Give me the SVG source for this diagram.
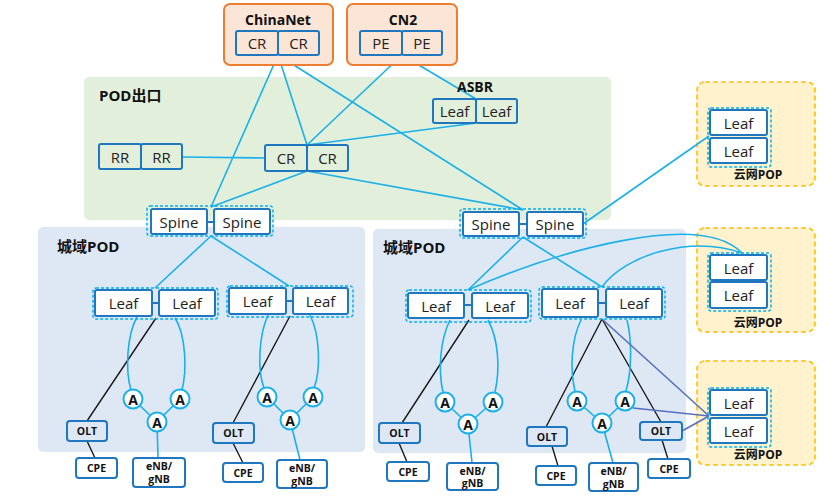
<svg xmlns="http://www.w3.org/2000/svg" width="831" height="496" viewBox="0 0 831 496">
<style>
.bg{fill:#fff}
.isp{fill:#fbe5d6;stroke:#ed7d31;stroke-width:2}
.green{fill:#e2efda}
.blue{fill:#dee8f5}
.pop{fill:#fff2cc;stroke:#ffc000;stroke-width:1.6;stroke-dasharray:5 3}
.grp{fill:none;stroke:#00b0f0;stroke-width:1.5;stroke-dasharray:3 2}
.n{fill:none;stroke:#1f77c0;stroke-width:2}
.w{fill:#fff;stroke:#1f77c0;stroke-width:2}
.t{font-family:"Open Sans","Noto Sans",sans-serif;font-size:15px;fill:#222;text-anchor:middle;dominant-baseline:central}
.b{font-family:"Open Sans","Noto Sans","Noto Sans CJK SC",sans-serif;font-weight:bold;fill:#111}
.s{font-family:"Open Sans","Noto Sans",sans-serif;font-weight:bold;font-size:10.5px;fill:#111;text-anchor:middle;dominant-baseline:central}
.l{fill:none;stroke:#1ab0ea;stroke-width:1.6}
.k{fill:none;stroke:#1a1a1a;stroke-width:1.4}
.p{fill:none;stroke:#5570c0;stroke-width:1.6}
.a{fill:#fff;stroke:#1ab0ea;stroke-width:2}
.at{font-family:"Open Sans","Noto Sans",sans-serif;font-weight:bold;font-size:14px;fill:#111;text-anchor:middle;dominant-baseline:central}
</style>
<rect class="bg" x="0" y="0" width="831" height="496"/>

<!-- regions -->
<g id="region-podexit">
<rect class="green" x="84" y="77" width="527" height="143" rx="5"/>
<text class="b" x="99" y="101" font-size="15">POD出口</text>
</g>
<g id="region-pod-left">
<rect class="blue" x="38" y="227" width="327" height="225" rx="5"/>
<text class="b" x="57" y="252" font-size="15">城域POD</text>
</g>
<g id="region-pod-right">
<rect class="blue" x="373" y="229" width="313" height="224" rx="5"/>
<text class="b" x="383" y="253" font-size="15">城域POD</text>
</g>
<g id="region-pop1"><rect class="pop" x="697" y="82" width="118" height="104" rx="8"/></g>
<g id="region-pop2"><rect class="pop" x="697" y="228" width="118" height="104" rx="8"/></g>
<g id="region-pop3"><rect class="pop" x="697" y="361" width="118" height="104" rx="8"/></g>

<!-- connectors -->
<g id="connectors">
<path class="l" d="M278,55 L211,207"/>
<path class="l" d="M278,55 L307,145"/>
<path class="l" d="M278,55 L523,210"/>
<path class="l" d="M402,55 L307,145"/>
<path class="l" d="M402,55 L476,99"/>
<path class="l" d="M307,145 L476,123"/>
<path class="l" d="M182,157 L265,158"/>
<path class="l" d="M307,171 L211,207"/>
<path class="l" d="M307,171 L523,210"/>
<path class="l" d="M583,224 L709,136"/>
<path class="l" d="M211,236 L155,288"/>
<path class="l" d="M211,236 L289,286"/>
<path class="l" d="M523,237 L468,290"/>
<path class="l" d="M523,237 L602,287"/>
<path class="l" d="M468,290 C560,250 700,210 742,253"/>
<path class="l" d="M602,287 C625,255 690,235 742,253"/>
<!-- short links -->
<path class="n" d="M207,222 H214 M519,224 H527 M152,303 H159 M286,301 H293 M464,305 H472 M598,303 H606"/>
<!-- left POD group 1 -->
<path class="k" d="M156,318 L87,421 M87,441 L95,458"/>
<path class="l" d="M137,317 C127,335 125,370 131,390"/>
<path class="l" d="M175,318 C186,335 187,370 182,390"/>
<path class="l" d="M133,399 L157,422 M180,399 L157,422 M157,422 L158,458"/>
<!-- left POD group 2 -->
<path class="k" d="M290,316 L233,423 M233,443 L243,463"/>
<path class="l" d="M268,315 C259,335 257,370 264,388"/>
<path class="l" d="M310,315 C320,335 321,370 314,388"/>
<path class="l" d="M267,397 L290,420 M313,397 L290,420 M290,420 L300,460"/>
<!-- right POD group 1 -->
<path class="k" d="M469,320 L402,423 M399,443 L407,462"/>
<path class="l" d="M450,320 C440,340 438,370 443,392"/>
<path class="l" d="M488,320 C499,340 500,370 495,392"/>
<path class="l" d="M445,402 L468,424 M493,402 L468,424 M468,424 L472,463"/>
<!-- right POD group 2 -->
<path class="k" d="M602,319 L546,427 M552,446 L558,466"/>
<path class="k" d="M602,319 L661,422 M662,440 L668,459"/>
<path class="l" d="M581,320 C571,340 570,370 575,391"/>
<path class="l" d="M627,320 C632,340 632,370 626,391"/>
<path class="l" d="M577,401 L602,423 M625,401 L602,423 M602,423 L613,463"/>
<path class="p" d="M602,319 L709,416 M633,408 L709,416 M682,431 L709,416"/>
</g>

<!-- ISPs -->
<g id="chinanet">
<rect class="isp" x="224" y="4" width="109" height="61" rx="6"/>
<text class="b" x="278" y="25" font-size="14" text-anchor="middle">ChinaNet</text>
<rect class="n" x="236" y="31" width="42" height="24" rx="2"/><text class="t" x="257" y="43">CR</text>
<rect class="n" x="278" y="31" width="41" height="24" rx="2"/><text class="t" x="298.5" y="43">CR</text>
</g>
<g id="cn2">
<rect class="isp" x="347" y="4" width="110" height="61" rx="6"/>
<text class="b" x="403" y="25" font-size="14" text-anchor="middle">CN2</text>
<rect class="n" x="360" y="31" width="42" height="24" rx="2"/><text class="t" x="381" y="43">PE</text>
<rect class="n" x="402" y="31" width="40" height="24" rx="2"/><text class="t" x="422" y="43">PE</text>
</g>

<!-- POD exit nodes -->
<g id="rr">
<rect class="n" x="99" y="144" width="42" height="25" rx="2"/><text class="t" x="120" y="156.5">RR</text>
<rect class="n" x="141" y="144" width="41" height="25" rx="2"/><text class="t" x="161.5" y="156.5">RR</text>
</g>
<g id="cr-mid">
<rect class="n" x="265" y="145" width="42" height="26" rx="2"/><text class="t" x="286" y="158">CR</text>
<rect class="n" x="307" y="145" width="41" height="26" rx="2"/><text class="t" x="327.5" y="158">CR</text>
</g>
<g id="asbr">
<text class="b" x="475" y="92" font-size="14" text-anchor="middle">ASBR</text>
<rect class="n" x="433" y="99" width="43" height="24" rx="2"/><text class="t" x="454.5" y="111">Leaf</text>
<rect class="n" x="476" y="99" width="41" height="24" rx="2"/><text class="t" x="496.5" y="111">Leaf</text>
</g>

<!-- Spines -->
<g id="spine-left">
<rect class="grp" x="147" y="206" width="126" height="30" rx="3"/>
<rect class="w" x="151" y="209" width="56" height="25" rx="2"/><text class="t" x="179" y="221.5">Spine</text>
<rect class="w" x="214" y="209" width="56" height="25" rx="2"/><text class="t" x="242" y="221.5">Spine</text>
</g>
<g id="spine-right">
<rect class="grp" x="460" y="209" width="126" height="29" rx="3"/>
<rect class="w" x="463" y="212" width="56" height="24" rx="2"/><text class="t" x="491" y="224">Spine</text>
<rect class="w" x="527" y="212" width="56" height="24" rx="2"/><text class="t" x="555" y="224">Spine</text>
</g>

<!-- Left POD leaves -->
<g id="leaf-l1">
<rect class="grp" x="93" y="288" width="125" height="31" rx="3"/>
<rect class="w" x="95" y="290" width="57" height="26" rx="2"/><text class="t" x="123.5" y="303">Leaf</text>
<rect class="w" x="159" y="290" width="56" height="26" rx="2"/><text class="t" x="187" y="303">Leaf</text>
</g>
<g id="leaf-l2">
<rect class="grp" x="227" y="286" width="126" height="31" rx="3"/>
<rect class="w" x="229" y="288" width="57" height="26" rx="2"/><text class="t" x="257.5" y="301">Leaf</text>
<rect class="w" x="293" y="288" width="55" height="26" rx="2"/><text class="t" x="320.5" y="301">Leaf</text>
</g>
<!-- Right POD leaves -->
<g id="leaf-r1">
<rect class="grp" x="406" y="290" width="125" height="32" rx="3"/>
<rect class="w" x="408" y="293" width="56" height="25" rx="2"/><text class="t" x="436" y="305.5">Leaf</text>
<rect class="w" x="472" y="293" width="56" height="25" rx="2"/><text class="t" x="500" y="305.5">Leaf</text>
</g>
<g id="leaf-r2">
<rect class="grp" x="539" y="287" width="126" height="32" rx="3"/>
<rect class="w" x="542" y="289" width="56" height="28" rx="2"/><text class="t" x="570" y="303">Leaf</text>
<rect class="w" x="606" y="289" width="56" height="28" rx="2"/><text class="t" x="634" y="303">Leaf</text>
</g>

<!-- 云网POP leaves -->
<g id="pop1">
<rect class="grp" x="708" y="108" width="63" height="59" rx="3"/>
<rect class="w" x="710" y="110" width="57" height="25" rx="2"/><text class="t" x="738.5" y="122.5">Leaf</text>
<rect class="w" x="710" y="138" width="57" height="25" rx="2"/><text class="t" x="738.5" y="150.5">Leaf</text>
<text class="b" x="758" y="179" font-size="12" text-anchor="middle">云网POP</text>
</g>
<g id="pop2">
<rect class="grp" x="708" y="253" width="63" height="58" rx="3"/>
<rect class="w" x="710" y="255" width="57" height="25" rx="2"/><text class="t" x="738.5" y="267.5">Leaf</text>
<rect class="w" x="710" y="282" width="57" height="26" rx="2"/><text class="t" x="738.5" y="295">Leaf</text>
<text class="b" x="758" y="327" font-size="12" text-anchor="middle">云网POP</text>
</g>
<g id="pop3">
<rect class="grp" x="708" y="388" width="63" height="59" rx="3"/>
<rect class="w" x="710" y="390" width="57" height="25" rx="2"/><text class="t" x="738.5" y="402.5">Leaf</text>
<rect class="w" x="710" y="418" width="57" height="25" rx="2"/><text class="t" x="738.5" y="430.5">Leaf</text>
<text class="b" x="758" y="459" font-size="12" text-anchor="middle">云网POP</text>
</g>

<!-- A circles -->
<g id="a-nodes">
<circle class="a" cx="133" cy="399" r="9.5"/><text class="at" x="133" y="399">A</text>
<circle class="a" cx="180" cy="399" r="9.5"/><text class="at" x="180" y="399">A</text>
<circle class="a" cx="157" cy="422" r="9.5"/><text class="at" x="157" y="422">A</text>
<circle class="a" cx="267" cy="397" r="9.5"/><text class="at" x="267" y="397">A</text>
<circle class="a" cx="313" cy="397" r="9.5"/><text class="at" x="313" y="397">A</text>
<circle class="a" cx="290" cy="420" r="9.5"/><text class="at" x="290" y="420">A</text>
<circle class="a" cx="445" cy="402" r="9.5"/><text class="at" x="445" y="402">A</text>
<circle class="a" cx="493" cy="402" r="9.5"/><text class="at" x="493" y="402">A</text>
<circle class="a" cx="468" cy="424" r="9.5"/><text class="at" x="468" y="424">A</text>
<circle class="a" cx="577" cy="401" r="9.5"/><text class="at" x="577" y="401">A</text>
<circle class="a" cx="625" cy="401" r="9.5"/><text class="at" x="625" y="401">A</text>
<circle class="a" cx="602" cy="423" r="9.5"/><text class="at" x="602" y="423">A</text>
</g>

<!-- OLT / CPE / eNB -->
<g id="olt1"><rect class="n" x="67" y="421" width="40" height="20" rx="3"/><text class="s" x="87" y="431">OLT</text></g>
<g id="cpe1"><rect class="w" x="76" y="458" width="41" height="20" rx="3"/><text class="s" x="96.5" y="468">CPE</text></g>
<g id="enb1"><rect class="w" x="133" y="458" width="52" height="29" rx="3"/><text class="s" x="159" y="466">eNB/</text><text class="s" x="159" y="479">gNB</text></g>

<g id="olt2"><rect class="n" x="213" y="423" width="41" height="20" rx="3"/><text class="s" x="233.5" y="433">OLT</text></g>
<g id="cpe2"><rect class="w" x="223" y="463" width="40" height="19" rx="3"/><text class="s" x="243" y="472.5">CPE</text></g>
<g id="enb2"><rect class="w" x="277" y="460" width="50" height="28" rx="3"/><text class="s" x="302" y="468">eNB/</text><text class="s" x="302" y="481">gNB</text></g>

<g id="olt3"><rect class="n" x="379" y="423" width="41" height="20" rx="3"/><text class="s" x="399.5" y="433">OLT</text></g>
<g id="cpe3"><rect class="w" x="387" y="462" width="42" height="19" rx="3"/><text class="s" x="408" y="471.5">CPE</text></g>
<g id="enb3"><rect class="w" x="447" y="463" width="51" height="27" rx="3"/><text class="s" x="472.5" y="470.5">eNB/</text><text class="s" x="472.5" y="483">gNB</text></g>

<g id="olt4"><rect class="n" x="527" y="427" width="40" height="19" rx="3"/><text class="s" x="547" y="436.5">OLT</text></g>
<g id="cpe4"><rect class="w" x="536" y="466" width="40" height="19" rx="3"/><text class="s" x="556" y="475.5">CPE</text></g>
<g id="enb4"><rect class="w" x="589" y="463" width="49" height="28" rx="3"/><text class="s" x="613.5" y="471">eNB/</text><text class="s" x="613.5" y="484">gNB</text></g>

<g id="olt5"><rect class="n" x="640" y="422" width="42" height="18" rx="3"/><text class="s" x="661" y="431">OLT</text></g>
<g id="cpe5"><rect class="w" x="648" y="459" width="42" height="19" rx="3"/><text class="s" x="669" y="468.5">CPE</text></g>
</svg>
